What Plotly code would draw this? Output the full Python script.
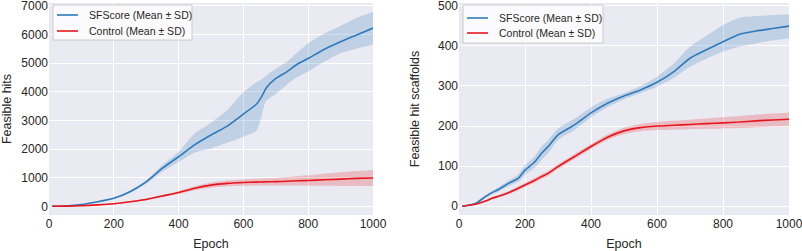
import plotly.graph_objects as go

# ---- Left panel data (Feasible hits) ----
epochs_hits = [10, 50, 100, 150, 200, 250, 300, 350, 400, 450, 500, 550, 600, 640, 655, 670, 700, 735, 765, 800, 850, 900, 950, 1000]
sf_hits_mean = [0, 10, 60, 160, 280, 510, 850, 1330, 1730, 2150, 2490, 2800, 3220, 3560, 3800, 4120, 4460, 4700, 4950, 5160, 5480, 5740, 5980, 6220]
sf_hits_upper = [0, 15, 75, 180, 310, 550, 910, 1440, 1900, 2550, 2920, 3360, 3980, 4330, 4420, 4560, 4800, 5050, 5350, 5690, 6030, 6300, 6580, 6790]
sf_hits_lower = [0, 5, 45, 140, 250, 470, 790, 1210, 1550, 1880, 2020, 2220, 2430, 2640, 3100, 3680, 3920, 4250, 4500, 4700, 5050, 5340, 5510, 5650]
ctrl_hits_mean = [0, 5, 20, 50, 90, 160, 240, 360, 480, 630, 740, 800, 830, 845, 850, 855, 860, 875, 890, 900, 925, 950, 975, 990]
ctrl_hits_upper = [0, 7, 28, 60, 105, 180, 265, 395, 530, 700, 830, 900, 940, 960, 970, 980, 990, 1020, 1050, 1080, 1140, 1190, 1230, 1270]
ctrl_hits_lower = [0, 3, 12, 40, 75, 140, 215, 325, 430, 560, 650, 700, 720, 730, 730, 730, 730, 730, 725, 720, 715, 710, 710, 710]

# ---- Right panel data (Feasible hit scaffolds) ----
epochs_scaf = [10, 50, 80, 100, 120, 150, 180, 200, 230, 250, 270, 300, 350, 400, 450, 500, 550, 600, 650, 700, 750, 800, 850, 900, 950, 1000]
sf_scaf_mean = [0, 7, 24, 34, 42, 57, 70, 90, 111, 132, 149, 178, 203, 233, 257, 275, 290, 309, 335, 369, 390, 410, 429, 437, 443, 449]
sf_scaf_upper = [0, 9, 28, 39, 48, 64, 80, 103, 125, 149, 165, 194, 218, 247, 268, 282, 300, 323, 355, 398, 425, 452, 470, 474, 477, 478]
sf_scaf_lower = [0, 5, 20, 30, 37, 50, 61, 78, 97, 115, 132, 165, 190, 222, 247, 267, 282, 298, 320, 348, 368, 385, 398, 406, 413, 419]
ctrl_scaf_mean = [0, 5, 13, 20, 25, 34, 45, 53, 65, 74, 82, 99, 124, 149, 172, 188, 196, 200, 202, 204, 206, 208, 210, 213, 215, 217]
ctrl_scaf_upper = [0, 6, 15, 23, 28, 38, 50, 58, 71, 80, 88, 105, 130, 155, 179, 196, 205, 210, 213, 216, 219, 222, 225, 228, 231, 234]
ctrl_scaf_lower = [0, 4, 11, 17, 22, 30, 40, 48, 59, 68, 76, 93, 118, 143, 165, 180, 187, 190, 191, 192, 193, 194, 195, 197, 199, 200]

x_ticks = [0, 200, 400, 600, 800, 1000]
hits_ticks = [0, 1000, 2000, 3000, 4000, 5000, 6000, 7000]
scaf_ticks = [0, 100, 200, 300, 400, 500]

series_names = ["SFScore (Mean ± SD)", "Control (Mean ± SD)"]

BLUE = "#2f7aba"
RED = "#e8161c"
BLUE_FILL = "rgba(47,122,186,0.22)"
RED_FILL = "rgba(232,22,28,0.22)"
FONT = "Liberation Sans, Arial, sans-serif"
TXT = "#262626"

fig = go.Figure()


def add_series(x, mean, upper, lower, color, fill, name, xa, ya):
    fig.add_trace(go.Scatter(x=x, y=upper, mode="lines",
                             line=dict(width=0, color=color, shape="spline", smoothing=0.6),
                             showlegend=False, hoverinfo="skip", xaxis=xa, yaxis=ya))
    fig.add_trace(go.Scatter(x=x, y=lower, mode="lines",
                             line=dict(width=0, color=color, shape="spline", smoothing=0.6),
                             fill="tonexty", fillcolor=fill, showlegend=False,
                             hoverinfo="skip", xaxis=xa, yaxis=ya))
    fig.add_trace(go.Scatter(x=x, y=mean, mode="lines",
                             line=dict(width=1.6, color=color, shape="spline", smoothing=0.6),
                             name=name, showlegend=False, xaxis=xa, yaxis=ya))


add_series(epochs_hits, sf_hits_mean, sf_hits_upper, sf_hits_lower, BLUE, BLUE_FILL, series_names[0], "x", "y")
add_series(epochs_hits, ctrl_hits_mean, ctrl_hits_upper, ctrl_hits_lower, RED, RED_FILL, series_names[1], "x", "y")
add_series(epochs_scaf, sf_scaf_mean, sf_scaf_upper, sf_scaf_lower, BLUE, BLUE_FILL, series_names[0], "x2", "y2")
add_series(epochs_scaf, ctrl_scaf_mean, ctrl_scaf_upper, ctrl_scaf_lower, RED, RED_FILL, series_names[1], "x2", "y2")

W, H = 802, 251
ydom = [1 - 215 / H, 1 - 3 / H]


def px(x):
    return x / W


def py(y):
    return 1 - y / H


# Legends drawn as boxes, line samples and text (pixel layout matched to the reference)
shapes = []
annotations = []
legend_boxes = [
    # box x0, x1, y0, y1, line x0, x1, row ys, text x
    (53, 192, 5, 40, 57, 78, (15, 31), 87),
    (463, 603, 5, 43, 467, 488, (18, 33), 497),
]
for bx0, bx1, by0, by1, lx0, lx1, rows, tx in legend_boxes:
    shapes.append(dict(type="rect", xref="paper", yref="paper",
                       x0=px(bx0), x1=px(bx1), y0=py(by1), y1=py(by0),
                       fillcolor="rgba(255,255,255,0.8)", line=dict(color="#cccccc", width=1),
                       layer="above"))
    for name, color, ry in zip(series_names, [BLUE, RED], rows):
        shapes.append(dict(type="line", xref="paper", yref="paper",
                           x0=px(lx0), x1=px(lx1), y0=py(ry), y1=py(ry),
                           line=dict(color=color, width=1.6), layer="above"))
        annotations.append(dict(text=name, xref="paper", yref="paper", x=px(tx), y=py(ry),
                                xanchor="left", yanchor="middle", showarrow=False,
                                font=dict(family=FONT, size=10.5, color=TXT)))

axis_common = dict(showgrid=True, gridcolor="white", gridwidth=1.3, zeroline=False,
                   showline=False, ticks="", automargin=False, ticklabeloverflow="allow",
                   tickfont=dict(family=FONT, size=12, color=TXT))
title_font = dict(family=FONT, size=12.5, color=TXT)

fig.update_layout(
    width=W, height=H,
    margin=dict(l=0, r=0, t=0, b=0, autoexpand=False),
    paper_bgcolor="white",
    plot_bgcolor="#EAEAF2",
    showlegend=False,
    font=dict(family=FONT, size=12, color=TXT),
    xaxis=dict(domain=[49 / W, 373 / W], range=[0, 1000], tickvals=x_ticks, anchor="y",
               title=dict(text="Epoch", font=title_font), **axis_common),
    yaxis=dict(domain=ydom, range=[-303, 7094], tickvals=hits_ticks, anchor="x",
               title=dict(text="Feasible hits", font=title_font), **axis_common),
    xaxis2=dict(domain=[459 / W, 789 / W], range=[0, 1000], tickvals=x_ticks, anchor="y2",
                title=dict(text="Epoch", font=title_font), **axis_common),
    yaxis2=dict(domain=ydom, range=[-21.7, 506.7], tickvals=scaf_ticks, anchor="x2",
                title=dict(text="Feasible hit scaffolds", font=title_font), **axis_common),
    shapes=shapes,
    annotations=annotations,
)

fig.write_html(
    "out.html",
    config={"displayModeBar": False},
    post_script="document.body.style.margin='0';document.body.style.overflow='hidden';",
)
